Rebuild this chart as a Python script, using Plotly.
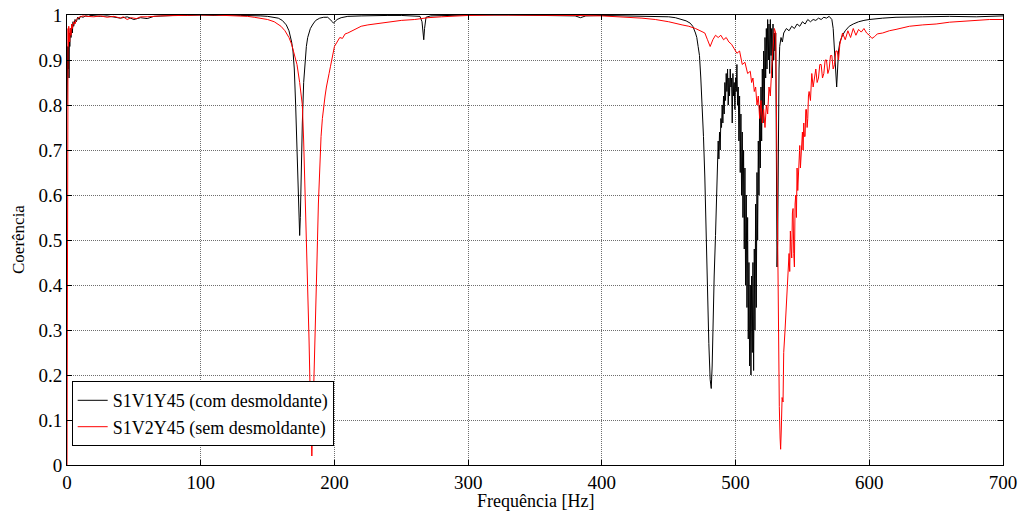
import plotly.graph_objects as go

# ---- S1V1Y45 (com desmoldante) ----
freq_black = [
    0, 0.3, 0.6, 0.9, 1.2, 1.5, 1.8, 2.1, 2.5, 3,
    3.5, 4, 4.5, 5, 6, 7, 8, 9, 10, 12,
    14, 16, 18, 20, 25, 30, 35, 40, 45, 50,
    55, 60, 65, 70, 80, 90, 100, 110, 120, 130,
    140, 145, 150, 155, 158, 161, 164, 166, 168, 169,
    170, 171, 172, 172.5, 173, 173.5, 174, 174.5, 175, 175.5,
    176, 177, 178, 179, 180, 182, 184, 186, 189, 192,
    195, 197, 198.5, 199.3, 200.5, 202, 205, 210, 220, 230,
    240, 250, 260, 264, 265.5, 266.3, 266.8, 267.4, 268.5, 272,
    280, 300, 330, 360, 380, 384, 388, 400, 420, 440,
    450, 455, 460, 463, 466, 468, 470, 471, 472, 473,
    474, 475, 476, 477, 478, 479, 480, 481, 481.8, 482.5,
    483, 484, 485, 486, 486.5, 487, 487.5, 488, 488.5, 489,
    489.5, 490, 490.5, 491, 491.5, 492, 492.5, 493, 493.5, 494,
    494.5, 495, 495.5, 496, 496.5, 497, 497.5, 498, 498.5, 499,
    499.5, 500, 500.5, 501, 501.5, 502, 502.5, 503, 503.5, 504,
    504.5, 505, 505.5, 506, 506.5, 507, 507.5, 508, 508.5, 509,
    509.5, 510, 510.5, 511, 511.5, 512, 512.5, 513, 513.5, 514,
    514.5, 515, 515.5, 516, 516.5, 517, 517.5, 518, 518.5, 519,
    519.5, 520, 520.5, 521, 521.5, 522, 522.5, 523, 523.5, 524,
    524.5, 525, 525.5, 526, 526.5, 527, 527.5, 528, 528.5, 529,
    529.5, 530, 530.5, 531, 531.5, 532, 532.5, 533, 534, 535,
    536, 538, 540, 542, 544, 546, 548, 550, 552, 554,
    556, 558, 560, 562, 564, 566, 568, 570, 572, 573,
    574, 575, 575.6, 576.3, 577, 578, 580, 582, 585, 588,
    592, 596, 600, 610, 620, 640, 660, 680, 700,
]
coh_black = [
    0.80, 0.84, 0.93, 0.88, 0.95, 0.86, 0.96, 0.93, 0.97, 0.95,
    0.98, 0.96, 0.985, 0.975, 0.99, 0.985, 0.995, 0.99, 0.997, 0.995,
    0.998, 0.997, 0.999, 0.998, 0.997, 0.998, 0.996, 0.993, 0.996, 0.99,
    0.994, 0.992, 0.997, 0.998, 0.999, 0.999, 1.0, 0.999, 1.0, 0.999,
    0.999, 0.998, 0.997, 0.995, 0.993, 0.988, 0.978, 0.965, 0.94, 0.92,
    0.88, 0.80, 0.70, 0.63, 0.57, 0.52, 0.51, 0.55, 0.63, 0.70,
    0.76, 0.85, 0.90, 0.93, 0.95, 0.97, 0.98, 0.988, 0.993, 0.995,
    0.995, 0.99, 0.985, 0.982, 0.986, 0.99, 0.994, 0.997, 0.998, 0.999,
    0.999, 0.999, 0.998, 0.997, 0.985, 0.96, 0.945, 0.97, 0.995, 0.998,
    0.999, 1.0, 1.0, 0.999, 0.998, 0.994, 0.998, 0.999, 0.998, 0.997,
    0.996, 0.994, 0.99, 0.987, 0.982, 0.975, 0.96, 0.95, 0.93, 0.91,
    0.86, 0.80, 0.73, 0.64, 0.50, 0.38, 0.27, 0.19, 0.17, 0.22,
    0.30, 0.42, 0.51, 0.62, 0.66, 0.72, 0.68, 0.74, 0.70, 0.77,
    0.75, 0.80, 0.76, 0.82, 0.78, 0.85, 0.81, 0.87, 0.83, 0.88,
    0.80, 0.86, 0.82, 0.88, 0.84, 0.86, 0.76, 0.87, 0.82, 0.85,
    0.79, 0.86, 0.83, 0.89, 0.80, 0.84, 0.72, 0.82, 0.65, 0.78,
    0.60, 0.74, 0.55, 0.70, 0.48, 0.66, 0.40, 0.60, 0.35, 0.55,
    0.28, 0.45, 0.22, 0.40, 0.20, 0.42, 0.25, 0.45, 0.21, 0.48,
    0.30, 0.58, 0.35, 0.65, 0.50, 0.72, 0.60, 0.80, 0.66, 0.84,
    0.72, 0.88, 0.76, 0.92, 0.80, 0.95, 0.86, 0.97, 0.88, 0.99,
    0.90, 0.98, 0.87, 0.99, 0.91, 0.97, 0.86, 0.98, 0.90, 0.96,
    0.92, 0.96, 0.70, 0.44, 0.50, 0.75, 0.88, 0.93, 0.95, 0.94,
    0.96, 0.97, 0.965, 0.975, 0.97, 0.98, 0.975, 0.985, 0.98, 0.99,
    0.985, 0.99, 0.988, 0.993, 0.99, 0.995, 0.993, 0.997, 0.99, 0.97,
    0.92, 0.86, 0.84, 0.88, 0.92, 0.94, 0.955, 0.965, 0.975, 0.98,
    0.985, 0.988, 0.99, 0.993, 0.995, 0.996, 0.997, 0.996, 0.998,
]

# ---- S1V2Y45 (sem desmoldante) ----
freq_red = [
    0, 0.2, 0.4, 0.6, 0.8, 1.0, 1.3, 1.6, 2.0, 2.5,
    3, 3.5, 4, 5, 6, 7, 8, 10, 12, 15,
    20, 25, 30, 35, 40, 42, 45, 48, 52, 55,
    60, 70, 80, 90, 100, 110, 120, 130, 135, 140,
    145, 150, 155, 160, 163, 166, 168, 170, 172, 174,
    175, 176, 177, 178, 179, 180, 181, 182, 182.6, 183.1,
    183.6, 184.2, 185, 186, 187, 188, 189, 190, 191, 192,
    193, 194, 195, 196, 197, 198, 199, 200, 202, 204,
    206, 208, 210, 213, 216, 220, 225, 230, 235, 240,
    250, 260, 270, 280, 300, 320, 350, 380, 400, 420,
    430, 440, 450, 460, 465, 470, 474, 477, 479, 481,
    483, 485, 487, 489, 491, 493, 495, 497, 499, 501,
    503, 505, 507, 509, 511, 512, 513, 514, 515, 516,
    517, 518, 519, 520, 521, 522, 523, 524, 525, 526,
    527, 528, 529, 530, 530.7, 531.3, 532, 532.7, 533.3, 533.7,
    534.2, 534.8, 535.5, 536, 537, 538, 539, 540, 540.5, 541,
    541.5, 542, 542.5, 543, 543.5, 544, 544.5, 545, 545.5, 546,
    546.5, 547, 547.5, 548, 548.5, 549, 549.5, 550, 550.5, 551,
    551.5, 552, 552.5, 553, 553.5, 554, 554.5, 555, 556, 557,
    558, 559, 560, 561, 562, 563, 564, 565, 566, 567,
    568, 569, 570, 571, 572, 573, 574, 575, 576, 577,
    578, 580, 582, 584, 586, 588, 590, 592, 594, 596,
    598, 600, 602, 604, 606, 610, 615, 620, 625, 630,
    640, 650, 660, 670, 680, 690, 700,
]
coh_red = [
    0.0, 0.35, 0.80, 0.95, 0.97, 0.93, 0.975, 0.96, 0.94, 0.97,
    0.955, 0.98, 0.97, 0.985, 0.98, 0.99, 0.993, 0.996, 0.998, 0.997,
    0.996, 0.998, 0.995, 0.997, 0.993, 0.996, 0.99, 0.994, 0.992, 0.996,
    0.996, 0.998, 0.999, 1.0, 1.0, 1.0, 0.999, 0.998, 0.997, 0.995,
    0.993, 0.99, 0.985, 0.975, 0.965, 0.95, 0.935, 0.915, 0.89, 0.85,
    0.83, 0.80, 0.72, 0.62, 0.53, 0.42, 0.28, 0.14, 0.07, 0.02,
    0.07, 0.15, 0.22, 0.35, 0.46, 0.58, 0.66, 0.73, 0.77, 0.80,
    0.82, 0.84, 0.86, 0.87, 0.885, 0.90, 0.915, 0.93, 0.94, 0.95,
    0.948, 0.958, 0.96, 0.965, 0.97, 0.975, 0.978, 0.98, 0.983, 0.985,
    0.988, 0.99, 0.994, 0.996, 0.999, 1.0, 1.0, 0.999, 0.998, 0.995,
    0.993, 0.99, 0.985, 0.978, 0.975, 0.97, 0.965, 0.96, 0.945, 0.93,
    0.945, 0.955, 0.95, 0.955, 0.945, 0.95, 0.94, 0.935, 0.925, 0.915,
    0.92, 0.89, 0.895, 0.87, 0.875, 0.85, 0.86, 0.83, 0.84, 0.80,
    0.82, 0.77, 0.81, 0.76, 0.79, 0.75, 0.80, 0.78, 0.84, 0.82,
    0.88, 0.93, 0.97, 0.96, 0.70, 0.45, 0.25, 0.13, 0.06, 0.035,
    0.08, 0.15, 0.14, 0.25, 0.30, 0.36, 0.42, 0.47, 0.43, 0.52,
    0.48, 0.46, 0.56, 0.57, 0.47, 0.44, 0.58, 0.60, 0.55, 0.66,
    0.61, 0.64, 0.70, 0.71, 0.66, 0.69, 0.74, 0.74, 0.70, 0.76,
    0.73, 0.73, 0.79, 0.79, 0.75, 0.77, 0.82, 0.83, 0.81, 0.87,
    0.84, 0.86, 0.88, 0.85, 0.86, 0.89, 0.89, 0.86, 0.87, 0.90,
    0.90, 0.87, 0.88, 0.91, 0.91, 0.88, 0.89, 0.92, 0.92, 0.90,
    0.935, 0.96, 0.945, 0.965, 0.95, 0.97, 0.955, 0.968, 0.962, 0.97,
    0.96, 0.955, 0.948, 0.952, 0.958, 0.96, 0.965, 0.968, 0.972, 0.975,
    0.978, 0.98, 0.984, 0.986, 0.988, 0.99, 0.99,
]

x_ticks = [0, 100, 200, 300, 400, 500, 600, 700]
y_ticks = [0, 0.1, 0.2, 0.3, 0.4, 0.5, 0.6, 0.7, 0.8, 0.9, 1]
y_tick_labels = ["0", "0.1", "0.2", "0.3", "0.4", "0.5", "0.6", "0.7", "0.8", "0.9", "1"]
x_title = "Frequência [Hz]"
y_title = "Coerência"

FONT = "Liberation Serif"
W, H = 1026, 518
ML, MR, MT, MB = 67, 23, 15, 53

fig = go.Figure()
fig.add_trace(go.Scatter(x=freq_black, y=coh_black, mode="lines",
                         name="S1V1Y45 (com desmoldante)",
                         line=dict(color="black", width=1)))
fig.add_trace(go.Scatter(x=freq_red, y=coh_red, mode="lines",
                         name="S1V2Y45 (sem desmoldante)",
                         line=dict(color="#ff0000", width=1)))

axis_common = dict(
    showline=True, linecolor="black", linewidth=1, mirror="ticks",
    ticks="inside", ticklen=5, tickcolor="black", automargin=False,
    showgrid=True, gridcolor="#6e6e6e", griddash="1px,1px", gridwidth=1,
    zeroline=False, tickfont=dict(family=FONT, size=19, color="black"),
)

pw = W - ML - MR
ph = H - MT - MB

fig.update_layout(
    width=W, height=H,
    margin=dict(l=ML, r=MR, t=MT, b=MB, autoexpand=False),
    paper_bgcolor="white", plot_bgcolor="white",
    font=dict(family=FONT, size=19, color="black"),
    xaxis=dict(range=[0, 700], tickvals=x_ticks, **axis_common),
    yaxis=dict(range=[0, 1], tickvals=y_ticks, ticktext=y_tick_labels, **axis_common),
    legend=dict(x=0.005, y=0.042, xanchor="left", yanchor="bottom",
                bgcolor="white", bordercolor="black", borderwidth=1,
                font=dict(family=FONT, size=18, color="black"),
                tracegroupgap=0, itemwidth=30),
    showlegend=True,
    annotations=[
        dict(text=x_title, xref="paper", yref="paper",
             x=0.5, y=-(501 - (MT + ph)) / ph, xanchor="center", yanchor="middle",
             showarrow=False, font=dict(family=FONT, size=18, color="black")),
        dict(text=y_title, xref="paper", yref="paper",
             x=-(ML - 18) / pw, y=0.5, xanchor="center", yanchor="middle",
             textangle=-90, showarrow=False,
             font=dict(family=FONT, size=17, color="black")),
    ],
)

fig.write_html("out.html")
